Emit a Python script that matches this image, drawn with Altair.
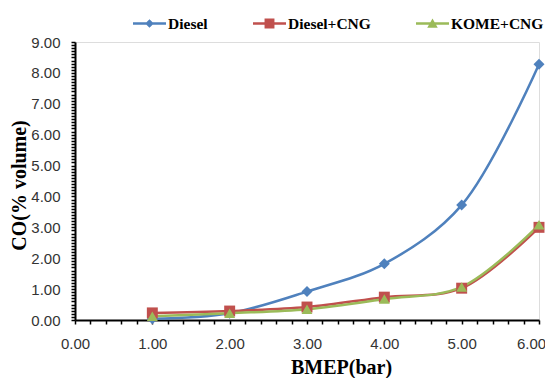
import altair as alt
import pandas as pd

# ---- data ----
bmep = [1.0, 2.0, 3.0, 4.0, 5.0, 6.0]
diesel = [0.04, 0.22, 0.92, 1.82, 3.72, 8.28]
diesel_cng = [0.23, 0.29, 0.42, 0.74, 1.03, 3.00]
kome_cng = [0.12, 0.22, 0.35, 0.68, 1.07, 3.08]

series_names = ["Diesel", "Diesel+CNG", "KOME+CNG"]
series_values = [diesel, diesel_cng, kome_cng]
colors = ["#4F81BD", "#C0504D", "#9BBB59"]
marker_shapes = ["diamond", "square", "triangle-up"]
# legend symbols: a short line with the marker in the middle
legend_shapes = [
    "M-1,-0.075H1V0.075H-1Z M0,-0.26L0.26,0L0,0.26L-0.26,0Z",
    "M-1,-0.075H1V0.075H-1Z M-0.3,-0.3H0.3V0.3H-0.3Z",
    "M-1,-0.075H1V0.075H-1Z M0,-0.3L0.32,0.26H-0.32Z",
]

x_ticks = [round(i * 0.2, 1) for i in range(0, 31)]
y_ticks = [round(i * 0.1, 1) for i in range(0, 91)]

rows = []
for name, vals in zip(series_names, series_values):
    for xv, yv in zip(bmep, vals):
        rows.append({"BMEP": xv, "CO": yv, "series": name})
df = pd.DataFrame(rows)

label_expr = "abs(datum.value - round(datum.value)) < 0.001 ? format(datum.value, '.2f') : ''"

x_axis = alt.Axis(
    values=x_ticks, labelExpr=label_expr, labelOverlap=False, labelFlush=False,
    labelOffset={"condition": {"test": "datum.value > 5.9", "value": -8}, "value": 0},
    grid=False, domainColor="black", domainWidth=2, tickColor="black",
    tickWidth=1.5, tickSize=4, labelPadding=12, labelFont="Liberation Sans",
    labelFontSize=15, labelColor="#333333", title="BMEP(bar)",
    titleFont="Liberation Serif", titleFontSize=20, titleFontWeight="bold",
    titleColor="black", titleX=266, titleY=53, titleBaseline="alphabetic",
    titleAlign="center",
)
y_axis = alt.Axis(
    values=y_ticks, labelExpr=label_expr, labelOverlap=False, labelFlush=False,
    grid=False, domainColor="black", domainWidth=2, tickColor="black",
    tickWidth=1.5, tickSize=4, labelPadding=11, labelFont="Liberation Sans",
    labelFontSize=15, labelColor="#333333", title="CO(% volume)",
    titleFont="Liberation Serif", titleFontSize=20, titleFontWeight="bold",
    titleColor="black", titleX=-56, titleY=143, titleBaseline="middle",
    titleAlign="center",
)

x_enc = alt.X("BMEP:Q", scale=alt.Scale(domain=[0, 6], nice=False, zero=False), axis=x_axis)
y_enc = alt.Y("CO:Q", scale=alt.Scale(domain=[0, 9], nice=False), axis=y_axis)

color_scale = alt.Scale(domain=series_names, range=colors)

lines = alt.Chart(df).mark_line(interpolate="catmull-rom", strokeWidth=2.5).encode(
    x=x_enc, y=y_enc,
    color=alt.Color("series:N", scale=color_scale, legend=None),
    order=alt.Order("BMEP:Q"),
)

points = alt.Chart(df).mark_point(filled=True, size=120, opacity=1).encode(
    x=x_enc, y=y_enc,
    color=alt.Color("series:N", scale=color_scale, legend=None),
    shape=alt.Shape("series:N", scale=alt.Scale(domain=series_names, range=marker_shapes), legend=None),
)

legend_props = dict(
    title=None, orient="none", legendX=58, legendY=-35, direction="horizontal",
    columns=3, columnPadding=45, labelOffset=2, symbolSize=1089,
    symbolStrokeWidth=0, labelFont="Liberation Serif", labelFontSize=15.5,
    labelFontWeight="bold", labelColor="black", symbolOpacity=1,
    labelLimit=200,
)

legend_layer = alt.Chart(df).transform_filter("false").mark_point(filled=True).encode(
    x=x_enc, y=y_enc,
    color=alt.Color("series:N", scale=color_scale, legend=alt.Legend(**legend_props)),
    shape=alt.Shape("series:N", scale=alt.Scale(domain=series_names, range=legend_shapes),
                    legend=alt.Legend(**legend_props)),
)

chart = alt.layer(lines, points, legend_layer).resolve_scale(
    color="independent", shape="independent"
).properties(
    width=464, height=278,
    autosize=alt.AutoSizeParams(type="none"),
    padding={"left": 67, "top": 34, "right": 6, "bottom": 62},
).configure_view(stroke=None).configure(background="white")

chart.save("out.html", embed_options={"renderer": "svg", "actions": False})
